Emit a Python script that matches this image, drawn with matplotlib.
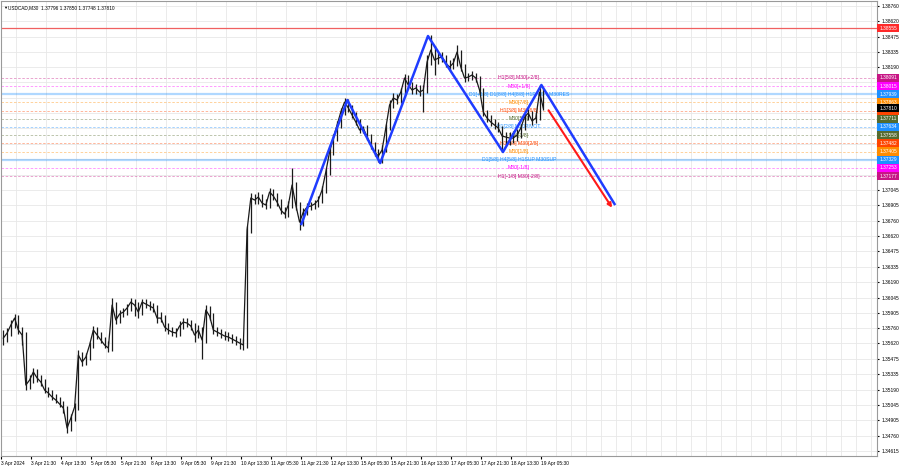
import matplotlib.pyplot as plt
import numpy as np

plt.rcParams['font.family'] = ['Liberation Sans', 'DejaVu Sans']

# USDCAD M30, grouped into 2-hour bars (4 x M30 each)
close = [1.35669, 1.35716, 1.35790, 1.35855, 1.35744, 1.35697, 1.35232, 1.35278, 1.35353, 1.35297,
         1.35260, 1.35185, 1.35157, 1.35120, 1.35092, 1.35055, 1.35018, 1.34831, 1.34924, 1.35027,
         1.35511, 1.35446, 1.35492, 1.35604, 1.35744, 1.35697, 1.35651, 1.35604, 1.35576, 1.35976,
         1.35837, 1.35893, 1.35911, 1.35949, 1.36004, 1.35976, 1.35911, 1.36004, 1.35986, 1.35967,
         1.35949, 1.35855, 1.35855, 1.35772, 1.35744, 1.35725, 1.35716, 1.35781, 1.35818, 1.35809,
         1.35781, 1.35697, 1.35744, 1.35651, 1.35930, 1.35874, 1.35744, 1.35725, 1.35707, 1.35688,
         1.35679, 1.35660, 1.35641, 1.35623, 1.35604, 1.36675, 1.36973, 1.36954, 1.36982, 1.36926,
         1.36907, 1.37029, 1.36991, 1.36935, 1.36861, 1.36824, 1.36907, 1.37094, 1.36907, 1.36749,
         1.36842, 1.36889, 1.36898, 1.36917, 1.36954, 1.37047, 1.37215, 1.37401, 1.37531, 1.37652,
         1.37773, 1.37866, 1.37811, 1.37745, 1.37680, 1.37606, 1.37624, 1.37541, 1.37466, 1.37401,
         1.37364, 1.37420, 1.37624, 1.37838, 1.37904, 1.37885, 1.37959, 1.38090, 1.38025, 1.37978,
         1.37997, 1.37959, 1.37978, 1.38239, 1.38351, 1.38257, 1.38276, 1.38285, 1.38229, 1.38192,
         1.38229, 1.38332, 1.38192, 1.38090, 1.38099, 1.38118, 1.38090, 1.37978, 1.37773, 1.37717,
         1.37680, 1.37652, 1.37624, 1.37550, 1.37541, 1.37531, 1.37531, 1.37559, 1.37624, 1.37727,
         1.37764, 1.37690, 1.37717, 1.37959, 1.37810]
high = [1.35744, 1.35763, 1.35837, 1.35893, 1.35883, 1.35772, 1.35725, 1.35324, 1.35390, 1.35380,
        1.35324, 1.35287, 1.35213, 1.35185, 1.35148, 1.35120, 1.35083, 1.35036, 1.34962, 1.35064,
        1.35558, 1.35539, 1.35530, 1.35632, 1.35781, 1.35772, 1.35725, 1.35679, 1.35641, 1.36042,
        1.36004, 1.35930, 1.35949, 1.35986, 1.36042, 1.36032, 1.36004, 1.36032, 1.36032, 1.36014,
        1.35995, 1.35976, 1.35911, 1.35883, 1.35809, 1.35772, 1.35763, 1.35828, 1.35855, 1.35855,
        1.35837, 1.35809, 1.35790, 1.35772, 1.35976, 1.35967, 1.35902, 1.35772, 1.35753, 1.35735,
        1.35725, 1.35707, 1.35688, 1.35669, 1.35660, 1.36712, 1.37019, 1.37010, 1.37028, 1.37010,
        1.36963, 1.37066, 1.37056, 1.37019, 1.36963, 1.36889, 1.36945, 1.37252, 1.37121, 1.36935,
        1.36880, 1.36926, 1.36935, 1.36954, 1.36991, 1.37084, 1.37252, 1.37439, 1.37569, 1.37690,
        1.37811, 1.37904, 1.37894, 1.37838, 1.37773, 1.37708, 1.37643, 1.37652, 1.37569, 1.37494,
        1.37429, 1.37466, 1.37662, 1.37885, 1.37950, 1.37941, 1.37997, 1.38127, 1.38118, 1.38053,
        1.38034, 1.38025, 1.38025, 1.38304, 1.38490, 1.38388, 1.38323, 1.38332, 1.38304, 1.38257,
        1.38276, 1.38397, 1.38351, 1.38220, 1.38136, 1.38155, 1.38136, 1.38108, 1.37997, 1.37792,
        1.37745, 1.37708, 1.37680, 1.37643, 1.37587, 1.37587, 1.37597, 1.37615, 1.37662, 1.37764,
        1.37801, 1.37783, 1.37773, 1.38025, 1.37987]
low = [1.35604, 1.35632, 1.35688, 1.35763, 1.35707, 1.35604, 1.35185, 1.35194, 1.35250, 1.35259,
       1.35222, 1.35157, 1.35120, 1.35092, 1.35064, 1.35027, 1.34971, 1.34785, 1.34804, 1.34897,
       1.34999, 1.35408, 1.35418, 1.35464, 1.35576, 1.35660, 1.35623, 1.35576, 1.35539, 1.35548,
       1.35800, 1.35809, 1.35865, 1.35883, 1.35921, 1.35874, 1.35855, 1.35883, 1.35949, 1.35930,
       1.35911, 1.35809, 1.35818, 1.35735, 1.35707, 1.35688, 1.35679, 1.35688, 1.35753, 1.35772,
       1.35744, 1.35632, 1.35669, 1.35474, 1.35623, 1.35837, 1.35707, 1.35688, 1.35669, 1.35651,
       1.35641, 1.35623, 1.35604, 1.35567, 1.35558, 1.35576, 1.36647, 1.36917, 1.36917, 1.36889,
       1.36870, 1.36880, 1.36954, 1.36898, 1.36824, 1.36787, 1.36796, 1.36880, 1.36861, 1.36675,
       1.36712, 1.36815, 1.36861, 1.36870, 1.36889, 1.36926, 1.37019, 1.37186, 1.37373, 1.37504,
       1.37625, 1.37745, 1.37773, 1.37717, 1.37652, 1.37578, 1.37578, 1.37513, 1.37429, 1.37364,
       1.37308, 1.37298, 1.37401, 1.37606, 1.37811, 1.37848, 1.37857, 1.37932, 1.37987, 1.37941,
       1.37941, 1.37922, 1.37773, 1.37950, 1.38211, 1.38118, 1.38220, 1.38239, 1.38192, 1.38155,
       1.38174, 1.38202, 1.38155, 1.38053, 1.38062, 1.38071, 1.38053, 1.37941, 1.37736, 1.37680,
       1.37643, 1.37615, 1.37587, 1.37401, 1.37457, 1.37466, 1.37485, 1.37504, 1.37531, 1.37606,
       1.37699, 1.37652, 1.37671, 1.37699, 1.37792]

time_labels = ['3 Apr 2024', '3 Apr 21:30', '4 Apr 13:30', '5 Apr 05:30', '5 Apr 21:30',
               '8 Apr 13:30', '9 Apr 05:30', '9 Apr 21:30', '10 Apr 13:30', '11 Apr 05:30',
               '11 Apr 21:30', '12 Apr 13:30', '15 Apr 05:30', '15 Apr 21:30', '16 Apr 13:30',
               '17 Apr 05:30', '17 Apr 21:30', '18 Apr 13:30', '19 Apr 05:30']

price_ticks = [1.34615, 1.34760, 1.34905, 1.35045, 1.35190, 1.35335, 1.35475, 1.35620, 1.35760,
               1.35905, 1.36045, 1.36190, 1.36335, 1.36475, 1.36620, 1.36760, 1.36905, 1.37045,
               1.37190, 1.37335, 1.37475, 1.37620, 1.37760, 1.37905, 1.38050, 1.38190, 1.38335,
               1.38475, 1.38620, 1.38760]

# murrey / pivot levels
level_prices = [1.38091, 1.38015, 1.37939, 1.37863, 1.37787, 1.37711, 1.37634,
                1.37558, 1.37482, 1.37405, 1.37329, 1.37253, 1.37177]
level_names = ['H1[5/8] M30[+2/8]', 'M30[+1/8]', 'D1[+1/8] D1[8/8] H4[8/8] H1PIVOT M30RES',
               'M30[7/8]', 'H1[3/8] M30[6/8]', 'M30[5/8]', 'H1[2/8] M30PIVOT', 'M30[3/8]',
               'H1[1/8] M30[2/8]', 'M30[1/8]', 'D1[5/8] H4[5/8] H1SUP M30SUP', 'M30[-1/8]',
               'H1[-1/8] M30[-2/8]']
level_colors = ['#c71585', '#ff00ff', '#1e90ff', '#ff8c00', '#ff4500', '#556b2f', '#1e90ff',
                '#556b2f', '#ff4500', '#ff8c00', '#1e90ff', '#ff00ff', '#c71585']
level_solid = [False, False, True, False, False, False, False,
               False, False, False, True, False, False]

red_level = 1.38555
last_price = 1.37810

# zigzag + forecast (in M30 bar numbers)
zz_bar = [320, 369, 404, 455, 535, 576, 654]
zz_price = [1.36731, 1.37885, 1.37298, 1.38481, 1.37401, 1.38025, 1.36917]
arrow_bar = [582, 653]
arrow_price = [1.37811, 1.36861]

fig = plt.figure(figsize=(9, 4.68), dpi=100)
ax = fig.add_axes([1 / 900, 12 / 468, 876 / 900, 455 / 468])

xb = np.arange(len(close)) * 4 + 2

# grid
ax.set_xticks(np.arange(len(time_labels)) * 32)
ax.set_xticks(np.arange(0, 934, 16), minor=True)
ax.set_yticks(price_ticks)
ax.grid(True, axis='x', which='minor', color='#e8e8e8', lw=0.6)
ax.grid(True, axis='y', which='major', color='#e8e8e8', lw=0.6)
ax.set_axisbelow(True)

# levels
ax.axhline(red_level, color='#f06060', lw=0.9, zorder=2)
for p, c, s in zip(level_prices, level_colors, level_solid):
    if s:
        ax.axhline(p, color=c, lw=1.6, alpha=0.35, zorder=2)
    else:
        ax.axhline(p, color=c, lw=0.6, alpha=0.45, ls=(0, (3, 2)), zorder=2)
for p, n, c in zip(level_prices, level_names, level_colors):
    ax.text(552, p, n, color=c, fontsize=3.7, ha='center', va='center', zorder=3)

# price bars
ax.vlines(xb, low, high, color='#1a1a1a', lw=0.9, zorder=4)
ax.plot(xb, close, color='#1a1a1a', lw=0.9, zorder=4)

# zigzag and arrow
ax.plot(zz_bar, zz_price, color='#1f3cff', lw=1.8, zorder=5)
ax.annotate('', xy=(arrow_bar[1], arrow_price[1]), xytext=(arrow_bar[0], arrow_price[0]),
            arrowprops=dict(arrowstyle='-|>', color='#ff1a1a', lw=1.5, mutation_scale=6),
            zorder=5)

ax.set_xlim(-0.5, 934)
ax.set_ylim(1.34571, 1.38807)

ax.yaxis.tick_right()
ax.set_yticklabels([f'{v:.5f}' for v in price_ticks])
ax.tick_params(axis='y', labelsize=3.5, length=1.5, pad=1.5, colors='black')
ax.set_xticklabels(time_labels, ha='left')
ax.tick_params(axis='x', which='major', labelsize=3.5, length=2, pad=1.5)
ax.tick_params(axis='x', which='minor', length=0)
for sp in ax.spines.values():
    sp.set_color('#9a9a9a')
    sp.set_linewidth(0.8)

# right-hand price boxes
tr = ax.get_yaxis_transform()
box_prices = [red_level] + level_prices + [last_price]
box_colors = ['#ff2a2a'] + level_colors + ['#000000']
for p, c in zip(box_prices, box_colors):
    ax.text(1.0025, p, f'{p:.5f}', transform=tr, fontsize=3.5, color='white', ha='left',
            va='center', clip_on=False, zorder=6,
            bbox=dict(boxstyle='square,pad=0.35', fc=c, ec='none'))

fig.text(3 / 900, 1 - 8 / 468, '\u25bc', fontsize=3, va='center', ha='left')
fig.text(8 / 900, 1 - 8 / 468, 'USDCAD,M30  1.37796 1.37850 1.37748 1.37810',
         fontsize=3.4, va='center', ha='left')

fig.savefig('out.png', dpi=100)
